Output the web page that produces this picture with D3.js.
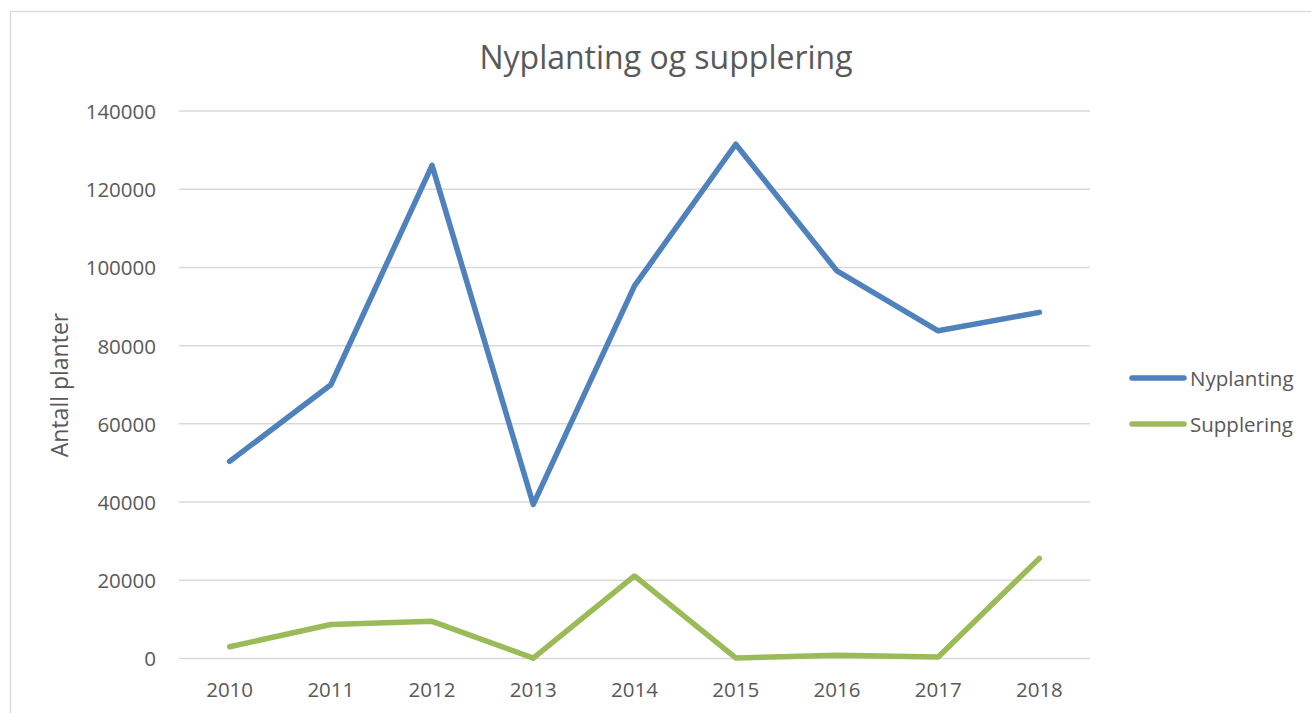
<!DOCTYPE html>
<html>
<head>
<meta charset="utf-8">
<script src="https://cdn.jsdelivr.net/npm/d3@7"></script>
<style>
  html, body { margin: 0; padding: 0; background: #fff; }
  svg { display: block; font-family: "Open Sans", sans-serif; }
</style>
</head>
<body>
<svg id="chart" width="1311" height="713"></svg>
<script>
const years = ["2010","2011","2012","2013","2014","2015","2016","2017","2018"];
const nyplanting = [50400, 70000, 126100, 39400, 95300, 131500, 99100, 83800, 88500];
const supplering = [3000, 8700, 9500, 100, 21100, 150, 850, 400, 25600];
const yTicks = [0, 20000, 40000, 60000, 80000, 100000, 120000, 140000];
const seriesNames = ["Nyplanting", "Supplering"];
const seriesColors = ["#4f81bd", "#9bbb59"];

const svg = d3.select("#chart");
const W = 1311, H = 713;
const plot = {left: 179, right: 1090, top: 111, bottom: 658.5};
const textColor = "#595959";

// outer chart border (extends beyond the visible region)
svg.append("rect")
  .attr("x", 10.5).attr("y", 11.5)
  .attr("width", 1400).attr("height", 800)
  .attr("fill", "none").attr("stroke", "#d9d9d9").attr("stroke-width", 1.3);

const x = d3.scaleBand().domain(years).range([plot.left, plot.right]);
const y = d3.scaleLinear().domain([0, 140000]).range([plot.bottom, plot.top]);

// gridlines
svg.append("g")
  .selectAll("line").data(yTicks).join("line")
  .attr("x1", plot.left).attr("x2", plot.right)
  .attr("y1", d => y(d)).attr("y2", d => y(d))
  .attr("stroke", "#d9d9d9").attr("stroke-width", 1.5);

// y axis labels
const yAxis = d3.axisLeft(y).tickValues(yTicks).tickSize(0).tickPadding(0).tickFormat(d3.format("d"));
const gy = svg.append("g").attr("transform", `translate(${plot.left - 23},0)`).call(yAxis);
gy.select(".domain").remove();
gy.selectAll("text").attr("fill", textColor).attr("font-size", "20.5px")
  .attr("font-family", "'Open Sans', sans-serif").attr("dy", "0.36em");

// x axis labels
const xAxis = d3.axisBottom(x).tickSize(0).tickPadding(0);
const gx = svg.append("g").attr("transform", `translate(0,${plot.bottom})`).call(xAxis);
gx.select(".domain").remove();
gx.selectAll("text").attr("fill", textColor).attr("font-size", "20.5px")
  .attr("font-family", "'Open Sans', sans-serif").attr("y", 38.5).attr("dy", 0);

// lines
const line = d3.line().x((d, i) => x(years[i]) + x.bandwidth() / 2).y(d => y(d));
[nyplanting, supplering].forEach((vals, k) => {
  svg.append("path").datum(vals)
    .attr("d", line)
    .attr("fill", "none")
    .attr("stroke", seriesColors[k])
    .attr("stroke-width", 5.5)
    .attr("stroke-linejoin", "round")
    .attr("stroke-linecap", "round");
});

// title
svg.append("text")
  .attr("x", 666).attr("y", 68.5)
  .attr("text-anchor", "middle")
  .attr("fill", textColor).attr("font-size", "32px")
  .text("Nyplanting og supplering");

// y axis title
svg.append("text")
  .attr("transform", "translate(68,385) rotate(-90)")
  .attr("text-anchor", "middle")
  .attr("fill", textColor).attr("font-size", "23px")
  .text("Antall planter");

// legend
const legendY = [378, 424];
const lg = svg.append("g");
seriesNames.forEach((name, k) => {
  lg.append("line")
    .attr("x1", 1132).attr("x2", 1184)
    .attr("y1", legendY[k]).attr("y2", legendY[k])
    .attr("stroke", seriesColors[k]).attr("stroke-width", 5.5)
    .attr("stroke-linecap", "round");
  lg.append("text")
    .attr("x", 1190).attr("y", legendY[k] + 7.5)
    .attr("fill", textColor).attr("font-size", "20.5px")
    .text(name);
});
</script>
</body>
</html>
